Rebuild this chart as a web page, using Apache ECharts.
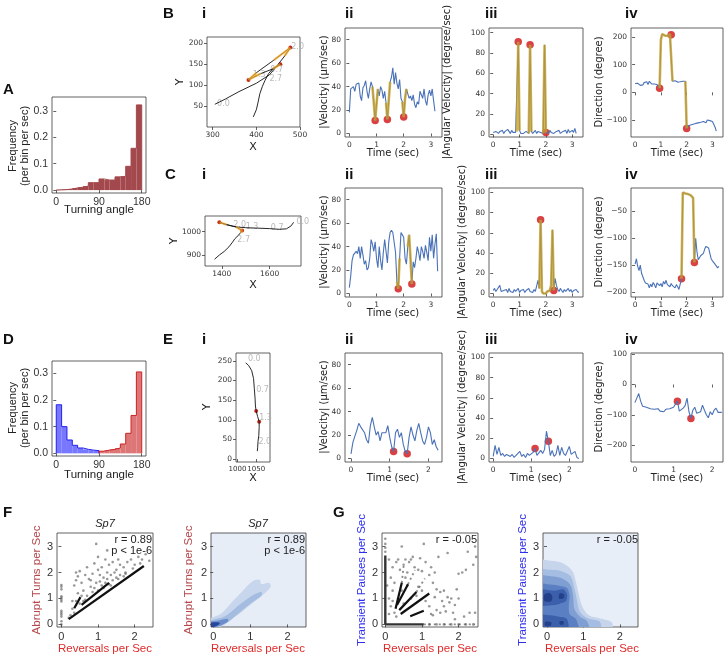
<!DOCTYPE html>
<html>
<head>
<meta charset="utf-8">
<script src="https://cdn.jsdelivr.net/npm/echarts/dist/echarts.min.js"></script>
<style>
html, body { margin: 0; padding: 0; background: #fff; }
#fig { width: 726px; height: 657px; }
</style>
</head>
<body>
<div id="fig"></div>
<script>
// ---------- data ----------
const dt = 0.05;
const angleTicks = [0, 90, 180];
const histA = [0.001, 0.002, 0.004, 0.008, 0.011, 0.015, 0.028, 0.028, 0.042, 0.038, 0.038, 0.05, 0.052, 0.09, 0.158, 0.322];
const histDBlue = [0.182, 0.10, 0.05, 0.03, 0.02, 0.015, 0.012, 0.01];
const histDRed = [0.008, 0.012, 0.015, 0.02, 0.035, 0.075, 0.142, 0.305];

// row B (fish turning a lot)
const velB = [18,38,37,40,36,42,41,43,32,28, 39,41,45,36,30,38,44,40,26,11, 25,38,32,40,37,30,36,26,12,28,
  44,48,56,42,52,43,38,46,30,27, 14,30,38,34,30,32,28,33,25,22, 27,25,36,33,30,38,28,24,33,37, 32,38,28,19];
const angB = [2,1,3,2,1,3,2,4,1,3, 2,5,3,1,4,2,3,2,3,91, 4,1,2,1,2,3,2,1,88,3,
  1,2,4,1,3,2,2,3,1,88, 2,3,1,4,2,3,1,2,3,2, 4,1,2,3,2,4,1,5,2,3, 4,2,6,1];
const dirB = [32,30,33,28,25,30,27,35,30,38, 28,40,33,30,37,30,35,28,22,15, 190,210,212,205,208,203,205,210,208,40,
  38,42,40,37,40,38,42,40,38,40, -130,-122,-125,-118,-120,-115,-118,-112,-115,-110,
  -113,-108,-112,-105,-108,-110,-100,-95,-102,-98, -105,-115,-125,-140];
const evB = [0.95, 1.4, 2.0];
const trajBx = [305,330,360,400,430,450,465,478,440,400,382,410,440,455,438,428,420,414,408,404,400,393];
const trajBy = [55,68,85,105,125,150,170,190,160,130,113,128,140,150,140,128,112,98,80,60,42,25];
const turnsB = [7, 10, 13];
const trajBLabels = [['0.0', 310, 55], ['1.3', 392, 126], ['0.7', 432, 137], ['2.0', 480, 192], ['2.7', 430, 116]];

// row C
const velC = [5,15,28,33,32,36,34,40,30,40, 33,25,28,20,22,30,46,42,36,44, 30,22,40,28,20,35,46,36,26,44,
  52,54,52,53,35,10,4,30,52,50, 48,30,25,40,50,30,8,27,22,30, 40,35,28,40,36,30,41,35,28,48, 36,50,30,42,51,19];
const angC = [3,5,2,4,3,8,2,1,3,2, 4,1,5,2,3,1,4,2,3,5, 1,3,2,4,1,3,2,5,2,3,
  1,4,2,3,13,5,73,2,0,1, 0,2,1,3,8,63,3,15,8,4, 2,5,3,1,4,2,3,5,2,4, 1,3,2,4,2,1];
const dirC = [-148,-138,-152,-160,-150,-165,-162,-178,-183,-180, -185,-192,-185,-190,-182,-186,-192,-183,-180,-188,
  -184,-190,-180,-185,-178,-186,-183,-190,-184,-188, -185,-192,-186,-190,-195,-185,-175,-15,-16,-17,
  -18,-18,-19,-20,-21,-25,-145,-100,-125,-140, -138,-132,-135,-128,-120,-115,-112,-118,-128,-138,
  -142,-145,-148,-150,-155,-152];
const evC = [1.8, 2.3];
const trajCx = [1700,1690,1670,1640,1600,1550,1500,1460,1420,1390,1420,1460,1485,1478,1470,1455,1445,1430,1410,1390,1370];
const trajCy = [1040,1025,1012,1010,1013,1015,1017,1020,1030,1040,1030,1020,1005,995,985,970,955,935,915,900,882];
const turnsC = [9, 12];
const trajCLabels = [['0.0', 1712, 1040], ['0.7', 1605, 1015], ['1.3', 1500, 1020], ['2.0', 1448, 1027], ['2.7', 1465, 965]];

// row E (no abrupt turns)
const velE = [4,14,13,24,30,27,28,22,16,13, 28,35,27,20,23,15,22,23,22,28, 18,10,6,22,25,18,22,12,6,4,
  18,27,20,15,24,30,22,15,12,18, 27,22,12,16,10,7];
const angE = [2,13,4,11,3,5,2,4,3,2, 4,1,3,2,7,2,4,1,5,3, 2,6,10,3,4,8,5,9,27,17,
  3,8,2,4,13,3,11,5,3,2, 12,4,3,7,1,0];
const dirE = [-60,-45,-30,-55,-72,-70,-75,-72,-80,-78, -82,-85,-80,-88,-85,-90,-82,-88,-80,-85,
  -75,-80,-55,-88,-85,-78,-70,-45,-90,-112, -85,-75,-95,-100,-90,-68,-85,-100,-110,-90,
  -100,-85,-78,-92,-88,-92];
const evE = [1.1, 1.45];
const trajEx = [1022,1030,1038,1043,1045,1047,1048,1050,1054,1058,1058,1057,1055,1054,1053];
const trajEy = [245,238,225,205,180,155,135,122,108,95,80,60,45,30,20];
const turnsE = [7, 9];
const trajELabels = [['0.0', 1028, 255], ['0.7', 1050, 176], ['1.3', 1058, 105], ['2.0', 1056, 44]];

// highlighted (turn) windows, seconds
const goldBv = [[0.85, 1.05], [1.35, 1.5], [1.95, 2.1]];
const goldBa = [[0.9, 1.0], [1.35, 1.45], [1.9, 2.0]];
const goldBd = [[0.95, 1.45], [1.95, 2.0]];
const goldCv = [[1.75, 1.85], [2.15, 2.3]];
const goldCa = [[1.75, 2.3]];
const goldCd = [[1.8, 2.3]];

// F: reversals vs abrupt turns
const fPts = [[0,0],[0,0.12],[0,0.3],[0,0.38],[0,0.45],[0,0.52],[0,0.88],[0,0.95],[0,1.02],[0,1.08],[0,1.35],[0,1.45],[0,1.52],
  [0.25,0.35],[0.3,0.6],[0.3,0.9],[0.35,1.5],[0.4,0.9],[0.4,1.7],[0.4,2.0],[0.45,1.2],[0.45,1.85],[0.5,0.8],[0.5,2.05],
  [0.55,1.1],[0.55,1.6],[0.6,0.9],[0.6,1.3],[0.65,1.9],[0.7,1.1],[0.7,2.2],[0.75,1.75],[0.8,1.45],[0.8,1.7],[0.85,1.95],
  [0.9,1.4],[0.9,2.35],[0.95,1.6],[0.95,3.1],[1.0,1.3],[1.0,2.1],[1.0,2.6],[1.05,1.65],[1.05,1.9],[1.1,1.5],[1.1,2.2],
  [1.15,1.4],[1.15,1.8],[1.2,1.6],[1.2,2.5],[1.25,1.75],[1.25,2.0],[1.25,2.85],[1.3,1.55],[1.3,2.3],[1.35,1.9],[1.4,1.7],
  [1.4,2.4],[1.45,2.0],[1.5,1.8],[1.5,2.1],[1.55,2.5],[1.6,1.9],[1.6,2.3],[1.7,1.85],[1.7,2.2],[1.75,2.0],[1.8,2.4],
  [1.9,2.5],[2.0,2.3],[2.1,2.6],[2.2,2.5],[2.3,2.7],[2.4,2.45],[0.2,0.25],[0.35,0.45],[0.65,0.95],[0.85,1.25],
  [1.35,1.5],[1.55,1.75],[1.75,1.95],[1.95,2.15],[2.15,2.35]];
const fLines = [[[0.2, 0.2], [2.25, 2.25]], [[0.35, 0.62], [0.52, 1.05]], [[0.55, 0.75], [1.3, 1.6]]];
const fKde = [
  [[-0.2,-0.2],[0.25,-0.05],[0.6,0.3],[1.0,0.75],[1.35,1.15],[1.55,1.45],[1.5,1.6],[1.3,1.55],[1.25,1.72],[1.05,1.65],[0.8,1.3],[0.5,0.85],[0.2,0.4],[-0.2,0.15]],
  [[-0.2,-0.2],[0.3,0.0],[0.7,0.45],[1.05,0.85],[1.3,1.1],[1.3,1.25],[1.1,1.15],[0.7,0.75],[0.3,0.3],[-0.2,0.08]],
  [[-0.2,-0.2],[0.2,-0.04],[0.4,0.12],[0.38,0.22],[0.15,0.15],[-0.2,0.05]],
  [[-0.2,-0.2],[0.1,-0.05],[0.18,0.05],[0.08,0.08],[-0.2,0.02]]
];

// G: reversals vs transient pauses
const gPts = [[0.1,2.5],[0.15,1.8],[0.2,2.2],[0.2,1.3],[0.25,1.6],[0.3,2.4],[0.35,2.5],[0.4,2.1],[0.45,3.0],[0.5,2.3],
  [0.55,2.5],[0.6,2.0],[0.65,2.4],[0.7,2.5],[0.75,2.6],[0.8,2.2],[0.9,2.1],[0.95,2.55],[1.0,2.05],[1.05,3.1],[1.1,2.4],
  [1.2,1.9],[1.25,2.2],[1.3,1.6],[1.35,2.0],[1.4,1.35],[1.45,2.6],[1.5,1.25],[1.55,0.9],[1.6,1.3],[1.65,0.5],[1.7,1.05],
  [1.75,0.85],[1.8,1.0],[1.85,0.45],[1.9,0.75],[2.0,1.0],[2.1,2.0],[2.0,1.95],[2.2,2.1],[2.25,2.8],[2.3,0.45],[2.4,2.3],
  [2.45,3.0],[2.48,2.6],[2.45,0.45],[1.1,0.9],[1.2,0.7],[1.25,0.4],[1.3,0.35],[1.4,0.55],[1.5,0.45],[1.0,1.3],[0.9,1.45],
  [0.85,1.1],[0.7,1.0],[0.6,1.5],[0.55,1.8],[0.5,0.8],[0.45,1.3],[0.35,1.0],[0.3,0.3],[0.25,0.45],[0.15,0.7],[0.1,1.0],
  [0.2,0.9],[1.6,0.7],[1.35,1.05],[2.15,0.3],[1.9,0.2],[1.95,1.35],[1.7,2.75],[0.05,1.5],[0.1,0.4],
  [0,2.8],[0,2.95],[0,3.1],[0,3.3],[1.2,0],[1.4,0],[1.6,0],[1.8,0],[2.0,0],[2.2,0],[2.4,0]];
const gDense = [[[0, 0], [0, 2.65]], [[0, 0], [1.05, 0]]];
const gSparse = [[[1.05, 0], [2.45, 0]], [[0.45, 1.6], [0.5, 2.25]], [[0.62, 1.55], [0.81, 2.09]], [[0.85, 1.25], [1.08, 1.77]]];
const gFan = [[[0.28, 0.6], [0.45, 1.6]], [[0.32, 0.75], [0.62, 1.55]], [[0.38, 0.55], [0.85, 1.25]], [[0.42, 0.4], [1.2, 1.19]], [[0.68, 0.31], [1.05, 0.53]]];
const gKde = [
  [[-0.4,-0.3],[1.75,-0.3],[1.78,0.08],[1.5,0.22],[1.15,0.35],[0.98,0.65],[0.88,1.1],[0.8,1.6],[0.7,2.05],[0.45,2.35],[0.1,2.45],[-0.4,2.45]],
  [[-0.4,-0.3],[1.45,-0.3],[1.45,0.1],[1.1,0.25],[0.9,0.5],[0.82,0.95],[0.75,1.4],[0.65,1.85],[0.4,2.05],[0.1,2.1],[-0.4,2.1]],
  [[-0.4,-0.3],[1.15,-0.3],[1.1,0.12],[0.9,0.3],[0.75,0.6],[0.72,1.05],[0.65,1.5],[0.45,1.75],[0.1,1.85],[-0.4,1.85]],
  [[-0.4,-0.3],[0.85,-0.3],[0.8,0.2],[0.62,0.4],[0.6,0.75],[0.62,1.1],[0.55,1.4],[0.3,1.5],[0.0,1.55],[-0.4,1.55]],
  [[-0.4,0.75],[0.2,0.75],[0.35,0.8],[0.52,0.9],[0.55,1.15],[0.45,1.35],[0.2,1.3],[-0.4,1.35]],
  [[-0.4,-0.3],[0.55,-0.3],[0.55,0.2],[0.3,0.3],[0.1,0.35],[-0.4,0.35]],
  [[-0.07,0.9],[0.1,0.88],[0.15,1.05],[0.08,1.2],[-0.07,1.15]],
  [[0.33,1.0],[0.45,1.0],[0.47,1.15],[0.35,1.2]],
  [[-0.05,-0.05],[0.1,-0.05],[0.12,0.08],[-0.05,0.1]],
  [[0.35,0.0],[0.45,0.0],[0.45,0.12],[0.35,0.12]]
];

// ---------- styles ----------
const BLUE = '#4a72b8';
const GOLD = 'rgba(200,160,40,0.78)';
const RED = '#d62728';
const MPL = "'DejaVu Sans'";
const ARL = "'Liberation Sans'";
const fKdeColors = ['#c7d6ec', '#a3bce0', '#6a8dcb', '#27489a'];
const gKdeColors = ['#c6d5ec', '#a5bde2', '#7f9fd3', '#5a7fc2', '#3c5fab', '#3c5fab', '#23418a', '#23418a', '#23418a', '#23418a'];

let grid = [], xAxis = [], yAxis = [], series = [], graphic = [];

const minus = v => (v < 0 ? '\u2212' + Math.abs(v) : '' + v);

function panel(box, xr, yr, xt, yt, o) {
  o = o || {};
  let gi = grid.length;
  grid.push({left: box[0], top: box[1], width: box[2], height: box[3], show: true,
    borderColor: '#3a3a3a', borderWidth: 0.8, backgroundColor: o.bg || 'transparent'});
  let ax = (r, ticks, fmt, fs) => ({
    gridIndex: gi, type: 'value', min: r[0], max: r[1],
    splitLine: {show: false}, axisLine: {show: false},
    axisTick: {show: true, length: 3, customValues: ticks, lineStyle: {color: '#3a3a3a', width: 0.8}},
    axisLabel: {customValues: ticks, fontSize: fs || o.fs || 7.5, fontFamily: o.ff || 'DejaVu Sans', color: '#333', margin: 4,
      hideOverlap: false, showMinLabel: true, showMaxLabel: true, formatter: fmt || minus}
  });
  xAxis.push(ax(xr, xt, null, o.xfs));
  yAxis.push(ax(yr, yt, o.yfmt));
  return gi;
}

function line(gi, data, color, width, extra) {
  return Object.assign({type: 'line', xAxisIndex: gi, yAxisIndex: gi, data: data, symbol: 'none', showSymbol: false,
    silent: true, lineStyle: {color: color, width: width}}, extra || {});
}
function dots(gi, data, color, size, opacity) {
  return {type: 'scatter', xAxisIndex: gi, yAxisIndex: gi, data: data, symbolSize: size, silent: true,
    itemStyle: {color: color, opacity: opacity == null ? 0.9 : opacity}};
}

function label(x, y, s, o) {
  o = o || {};
  graphic.push({
    type: 'text', x: x, y: y, rotation: o.rot ? Math.PI / 2 : 0, z: 100,
    style: {
      text: s, fill: o.color || '#222',
      font: (o.w || 'normal') + ' ' + (o.size || 10) + 'px ' + (o.ff || MPL),
      textAlign: o.align || 'center', textVerticalAlign: o.va || 'middle',
      align: o.align || 'center', verticalAlign: o.va || 'middle', lineHeight: o.lh
    }
  });
}

// ---------- histograms ----------
function hist(gi, vals, start, color, fill) {
  let w = 180 / 16;
  let bins = vals.map((h, i) => [(start + i) * w, (start + i + 1) * w, h]);
  series.push({type: 'custom', xAxisIndex: gi, yAxisIndex: gi, data: bins, silent: true,
    encode: {x: [0, 1], y: 2}, itemStyle: {color: fill},
    renderItem: function (params, api) {
      let a = api.coord([api.value(0), 0]);
      let b = api.coord([api.value(1), api.value(2)]);
      return {type: 'rect', shape: {x: a[0], y: b[1], width: b[0] - a[0], height: a[1] - b[1]}, style: {fill: api.visual('color')}};
    }});
  let outline = [[bins[0][0], 0]];
  bins.forEach(b => { outline.push([b[0], b[2]]); outline.push([b[1], b[2]]); });
  outline.push([bins[bins.length - 1][1], 0]);
  series.push(line(gi, outline, color, 1));
}

let fmt1 = v => v.toFixed(1);
let gA = panel([52, 97, 94, 96], [-9, 189], [-0.011, 0.352], angleTicks, [0, 0.1, 0.2, 0.3], {ff: 'Liberation Sans', fs: 10.5, yfmt: fmt1});
hist(gA, histA, 0, '#a3484d', '#a3484d');
let gD = panel([52, 361, 94, 95], [-9, 189], [-0.01, 0.346], angleTicks, [0, 0.1, 0.2, 0.3], {ff: 'Liberation Sans', fs: 10.5, yfmt: fmt1});
hist(gD, histDBlue, 0, '#2222ee', 'rgba(95,95,255,0.85)');
hist(gD, histDRed, 8, '#cc2222', 'rgba(215,95,95,0.85)');

// ---------- trajectories ----------
function traj(gi, xs, ys, turns, labels, highlight) {
  let pts = xs.map((x, i) => [x, ys[i]]);
  series.push(line(gi, pts, '#111', 0.9));
  if (highlight) {
    turns.forEach(k => {
      series.push(line(gi, pts.slice(Math.max(0, k - 1), k + 2), 'rgba(240,170,40,0.75)', 2.2));
    });
  }
  series.push(dots(gi, turns.map(k => pts[k]), '#cc2a1a', 4, 1));
  series.push({type: 'scatter', xAxisIndex: gi, yAxisIndex: gi, symbolSize: 0, silent: true,
    data: labels.map(l => [l[1], l[2], l[0]]),
    label: {show: true, position: 'inside', formatter: p => p.data[2], color: '#a8a8a8', fontSize: 8, fontFamily: 'DejaVu Sans', align: 'left'}});
}

let gBi = panel([207, 37, 93, 90], [287, 500], [1, 215], [300, 400, 500], [50, 100, 150, 200]);
traj(gBi, trajBx, trajBy, turnsB, trajBLabels, true);
let gCi = panel([205, 216, 96, 50], [1330, 1731], [853, 1067], [1400, 1600], [900, 1000]);
traj(gCi, trajCx, trajCy, turnsC, trajCLabels, true);
let gEi = panel([236, 353, 34, 109], [996, 1087], [-7.6, 270], [1000, 1050], [0, 50, 100, 150, 200, 250], {xfs: 7});
traj(gEi, trajEx, trajEy, turnsE, trajELabels, false);

// ---------- time series ----------
function ts(gi, vals, gold, events) {
  let pts = vals.map((v, i) => [+(i * dt).toFixed(2), v]);
  series.push(line(gi, pts, BLUE, 1.1));
  gold.forEach(w => {
    series.push(line(gi, pts.filter(p => p[0] >= w[0] - 1e-6 && p[0] <= w[1] + 1e-6), GOLD, 2.6));
  });
  series.push(dots(gi, events.map(e => [e, vals[Math.round(e / dt)]]), RED, 7.5, 0.88));
}

const tT3 = [0, 1, 2, 3], tT2 = [0, 1, 2];
const velT = [0, 20, 40, 60, 80], angT = [0, 20, 40, 60, 80, 100];

ts(panel([345, 28, 97, 109], [-0.16, 3.41], [-3, 90], tT3, velT), velB, goldBv, evB);
ts(panel([489, 28, 94, 109], [-0.16, 3.41], [-2.5, 104.5], tT3, angT), angB, goldBa, evB);
ts(panel([631, 28, 92, 109], [-0.16, 3.41], [-161, 232], tT3, [-100, 0, 100, 200]), dirB, goldBd, evB);

ts(panel([345, 188, 97, 109], [-0.16, 3.41], [-3, 90], tT3, velT), velC, goldCv, evC);
ts(panel([489, 188, 94, 109], [-0.16, 3.41], [-3.5, 104.5], tT3, angT), angC, goldCa, evC);
ts(panel([631, 188, 92, 109], [-0.16, 3.41], [-209, -6.7], tT3, [-200, -150, -100, -50]), dirC, goldCd, evC);

ts(panel([345, 353, 97, 109], [-0.155, 2.35], [-3, 90], tT2, velT), velE, [], evE);
ts(panel([489, 353, 94, 109], [-0.11, 2.36], [-3.5, 104.5], tT2, angT), angE, [], evE);
ts(panel([631, 353, 92, 109], [-0.1, 2.28], [-256, 104], tT2, [-200, -100, 0, 100]), dirE, [], evE);

// ---------- scatter / kde ----------
function kde(gi, polys, colors) {
  series.push({type: 'custom', xAxisIndex: gi, yAxisIndex: gi, silent: true, clip: true,
    data: polys.map(() => [0, 0]),
    renderItem: function (params, api) {
      let pts = polys[params.dataIndex].map(q => api.coord(q));
      return {type: 'polygon', shape: {points: pts, smooth: 0.3}, style: {fill: colors[params.dataIndex]}};
    }});
}
const sOpt = {ff: 'Liberation Sans', fs: 11};
let gF1 = panel([57, 533, 96, 94], [-0.12, 2.5], [-0.1, 3.52], tT2, tT3, sOpt);
series.push(dots(gF1, fPts, '#444', 2.6, 0.55));
fLines.forEach(l => series.push(line(gF1, l, '#111', 2.2)));

let gF2 = panel([211, 533, 95, 94], [-0.06, 2.5], [-0.1, 3.52], tT2, tT3, Object.assign({bg: '#e6edf7'}, sOpt));
kde(gF2, fKde, fKdeColors);

let gG1 = panel([382, 533, 96, 94], [-0.09, 2.53], [-0.1, 3.52], tT2, tT3, sOpt);
series.push(dots(gG1, gPts, '#444', 2.6, 0.55));
gDense.forEach(l => series.push(line(gG1, l, '#333', 2.4)));
gSparse.forEach(l => series.push(line(gG1, l, 'rgba(60,60,60,0.55)', 1.8, {lineStyle: {color: 'rgba(60,60,60,0.6)', width: 1.8, type: [2, 3]}})));
gFan.forEach(l => series.push(line(gG1, l, '#111', 2.2)));

let gG2 = panel([543, 533, 95, 94], [-0.11, 2.5], [-0.1, 3.52], tT2, tT3, Object.assign({bg: '#e8eef7'}, sOpt));
kde(gG2, gKde, gKdeColors);

// ---------- text ----------
const bold = {w: 'bold', size: 15, ff: ARL, align: 'left', va: 'top', color: '#111'};
label(3, 82, 'A', bold);
label(163, 6, 'B', bold); label(202, 6, 'i', bold); label(345, 6, 'ii', bold); label(485, 6, 'iii', bold); label(625, 6, 'iv', bold);
label(165, 167, 'C', bold); label(202, 167, 'i', bold); label(345, 167, 'ii', bold); label(485, 167, 'iii', bold); label(625, 167, 'iv', bold);
label(3, 332, 'D', bold);
label(163, 332, 'E', bold); label(202, 332, 'i', bold); label(345, 332, 'ii', bold); label(485, 332, 'iii', bold); label(625, 332, 'iv', bold);
label(3, 505, 'F', bold);
label(333, 505, 'G', bold);

// A / D axis names
label(99, 210, 'Turning angle', {ff: ARL, size: 11.5});
label(19, 146, 'Frequency\n(per bin per sec)', {ff: ARL, size: 11, rot: true, lh: 12});
label(99, 475, 'Turning angle', {ff: ARL, size: 11.5});
label(19, 408, 'Frequency\n(per bin per sec)', {ff: ARL, size: 11, rot: true, lh: 12});

// rows B, C, E
[[0, 153, 82], [160, 313, 242], [325, 478, 407]].forEach((r, k) => {
  let xy = [[253, 147, 180, 82], [253, 285, 174, 241], [253, 478, 207, 407]][k];
  label(xy[0], xy[1], 'X', {size: 11});
  label(xy[2], xy[3], 'Y', {size: 11, rot: true});
  label(393, r[1], 'Time (sec)', {size: 10});
  label(536, r[1], 'Time (sec)', {size: 10});
  label(677, r[1], 'Time (sec)', {size: 10});
  label(324, r[2], '|Velocity| (\u03bcm/sec)', {size: 10, rot: true});
  label(k === 0 ? 447 : 462, r[2], '|Angular Velocity| (degree/sec)', {size: 10, rot: true});
  label(599, r[2], 'Direction (degree)', {size: 10, rot: true});
});

// F / G
const abrupt = '#b5474b', rev = '#e02a2a', pause = '#2d2df0';
label(105, 524, 'Sp7', {ff: ARL, size: 11, w: 'italic'});
label(258, 524, 'Sp7', {ff: ARL, size: 11, w: 'italic'});
label(37, 580, 'Abrupt Turns per Sec', {ff: ARL, size: 11.5, rot: true, color: abrupt});
label(189, 580, 'Abrupt Turns per Sec', {ff: ARL, size: 11.5, rot: true, color: abrupt});
label(362, 580, 'Transient Pauses per Sec', {ff: ARL, size: 11.5, rot: true, color: pause});
label(523, 580, 'Transient Pauses per Sec', {ff: ARL, size: 11.5, rot: true, color: pause});
[105, 258, 430, 592].forEach(x => label(x, 649, 'Reversals per Sec', {ff: ARL, size: 11.5, color: rev}));
const rOpt = {ff: ARL, size: 11, align: 'right'};
label(152, 540, 'r = 0.89', rOpt); label(152, 551, 'p < 1e-6', rOpt);
label(305, 540, 'r = 0.89', rOpt); label(305, 551, 'p < 1e-6', rOpt);
label(477, 540, 'r = -0.05', rOpt);
label(638, 540, 'r = -0.05', rOpt);

let myChart = echarts.init(document.getElementById('fig'));
myChart.setOption({
  animation: false,
  backgroundColor: '#fff',
  grid: grid,
  xAxis: xAxis,
  yAxis: yAxis,
  series: series,
  graphic: graphic
});
</script>
</body>
</html>
